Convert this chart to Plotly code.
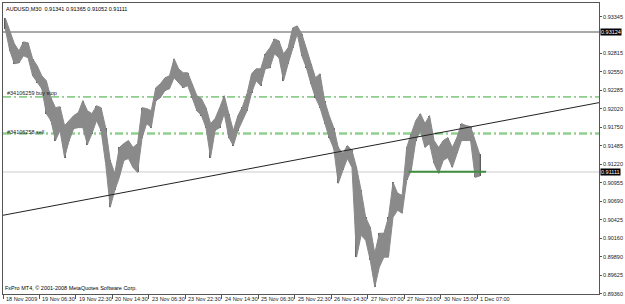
import plotly.graph_objects as go

# ---- data (2-hour aggregated AUDUSD bars) ----
HIGH = [0.93326, 0.93126, 0.92954, 0.92853, 0.92982, 0.92968, 0.92739, 0.92638, 0.92495, 0.92423,
        0.92180, 0.92036, 0.92050, 0.91778, 0.91850, 0.91922, 0.91965, 0.92137, 0.91993, 0.91950,
        0.92065, 0.92036, 0.91749, 0.91276, 0.91090, 0.91463, 0.91520, 0.91563, 0.91463, 0.91520,
        0.92036, 0.92022, 0.91993, 0.92323, 0.92380, 0.92466, 0.92495, 0.92739, 0.92595, 0.92538,
        0.92538, 0.92380, 0.92208, 0.92165, 0.92036, 0.91807, 0.91879, 0.92036, 0.92208, 0.91950,
        0.91706, 0.91922, 0.92050, 0.92237, 0.92524, 0.92595, 0.92595, 0.92810, 0.92896, 0.93025,
        0.92997, 0.92810, 0.92896, 0.93183, 0.93212, 0.93097, 0.92882, 0.92667, 0.92466, 0.92524,
        0.92137, 0.91922, 0.91749, 0.91463, 0.91377, 0.91491, 0.91420, 0.91176, 0.90846, 0.90459,
        0.90316, 0.89943, 0.90230, 0.90230, 0.90459, 0.90961, 0.90803, 0.90775, 0.91463, 0.91663,
        0.91850, 0.91950, 0.91807, 0.91922, 0.91563, 0.91463, 0.91563, 0.91606, 0.91463, 0.91606,
        0.91807, 0.91778, 0.91764, 0.91563, 0.91365]
LOW = [0.93169, 0.92853, 0.92667, 0.92681, 0.92782, 0.92753, 0.92495, 0.92395, 0.92309, 0.91950,
       0.91850, 0.91563, 0.91706, 0.91319, 0.91563, 0.91735, 0.91749, 0.91749, 0.91506, 0.91663,
       0.91850, 0.91706, 0.91233, 0.90603, 0.90846, 0.91033, 0.91276, 0.91305, 0.91176, 0.91104,
       0.91606, 0.91807, 0.91749, 0.92137, 0.92180, 0.92280, 0.92309, 0.92466, 0.92395, 0.92323,
       0.92352, 0.92180, 0.91993, 0.91922, 0.91749, 0.91319, 0.91706, 0.91749, 0.91950, 0.91606,
       0.91491, 0.91706, 0.91850, 0.91993, 0.92251, 0.92423, 0.92352, 0.92595, 0.92610, 0.92810,
       0.92753, 0.92423, 0.92667, 0.92896, 0.93097, 0.92782, 0.92610, 0.92380, 0.92180, 0.92036,
       0.91807, 0.91606, 0.91448, 0.90947, 0.91133, 0.91305, 0.91176, 0.89886, 0.90201, 0.90130,
       0.89843, 0.89456, 0.89743, 0.89886, 0.89886, 0.90459, 0.90560, 0.90517, 0.90990, 0.91133,
       0.91563, 0.91706, 0.91463, 0.91520, 0.91233, 0.91090, 0.91276, 0.91319, 0.91176, 0.91377,
       0.91563, 0.91563, 0.91563, 0.91033, 0.91052]

TIME_LABELS = ["18 Nov 2009", "19 Nov 06:30", "19 Nov 22:30", "20 Nov 14:30", "23 Nov 06:30",
               "23 Nov 22:30", "24 Nov 14:30", "25 Nov 06:30", "25 Nov 22:30", "26 Nov 14:30",
               "27 Nov 07:00", "27 Nov 23:00", "30 Nov 15:00", "1 Dec 07:00"]
LABEL_EVERY = 8  # bars between time labels

PRICE_TICKS = [0.93345, 0.92815, 0.92550, 0.92285, 0.92020, 0.91750, 0.91485, 0.91220,
               0.90955, 0.90690, 0.90425, 0.90160, 0.89890, 0.89625, 0.89360]
Y_RANGE = [0.89356, 0.93541]

RESIST_LEVEL = 0.93124
BID = 0.91111
BUY_STOP = 0.92190
SELL = 0.91663
SUPPORT = 0.91115
SUPPORT_BARS = [88.4, 105.4]
TREND_X = [-0.5, 130.15]
TREND_Y = [0.90488, 0.92108]

TITLE = "AUDUSD,M30  0.91341 0.91365 0.91052 0.91111"
COPYRIGHT = "FxPro MT4, \u00a9 2001-2008 MetaQuotes Software Corp."

FONT = "Liberation Sans"
FS = 5.5
BAND_COLOR = "#8a8a8a"
STROKE_COLOR = "#5e5e5e"

x = list(range(len(HIGH)))
fig = go.Figure()
# price range drawn as a high-low band, plus each bar's high-low stroke
fig.add_trace(go.Scatter(x=x, y=LOW, mode="lines", line=dict(color=BAND_COLOR, width=1),
                         hoverinfo="skip"))
fig.add_trace(go.Scatter(x=x, y=HIGH, mode="lines", line=dict(color=BAND_COLOR, width=1),
                         fill="tonexty", fillcolor=BAND_COLOR, hoverinfo="skip"))
fig.add_trace(go.Bar(x=x, y=[h - l for h, l in zip(HIGH, LOW)], base=LOW, width=0.25,
                     marker=dict(color=STROKE_COLOR, line=dict(width=0)), hoverinfo="skip"))
fig.add_trace(go.Scatter(x=TREND_X, y=TREND_Y, mode="lines",
                         line=dict(color="#222222", width=1), hoverinfo="skip"))
fig.add_trace(go.Scatter(x=SUPPORT_BARS, y=[SUPPORT, SUPPORT], mode="lines",
                         line=dict(color="#3f8f3f", width=2), hoverinfo="skip"))

shapes = [
    dict(type="line", xref="x domain", x0=0, x1=1, yref="y", y0=RESIST_LEVEL, y1=RESIST_LEVEL,
         line=dict(color="#555555", width=1), layer="below"),
    dict(type="line", xref="x domain", x0=0, x1=1, yref="y", y0=BID, y1=BID,
         line=dict(color="#cccccc", width=1), layer="below"),
    dict(type="line", xref="x domain", x0=0, x1=1, yref="y", y0=BUY_STOP, y1=BUY_STOP,
         line=dict(color="#3aa63a", width=1, dash="8px,3px,2px,3px"), layer="below"),
    dict(type="line", xref="x domain", x0=0, x1=1, yref="y", y0=SELL, y1=SELL,
         line=dict(color="#8fd08f", width=2.5, dash="8px,3px,2px,3px"), layer="below"),
]

ann = []
for k, lab in enumerate(TIME_LABELS):
    ann.append(dict(x=k * LABEL_EVERY - 0.5, xref="x", y=-0.017, yref="paper", text=lab,
                    showarrow=False, xanchor="left", yanchor="middle", xshift=1,
                    font=dict(family=FONT, size=FS, color="#222")))
for lv in (RESIST_LEVEL, BID):
    ann.append(dict(x=1, xref="paper", y=lv, yref="y", text=f"{lv:.5f}", showarrow=False,
                    xanchor="left", yanchor="middle", bgcolor="#000000", borderpad=0,
                    font=dict(family=FONT, size=FS, color="#ffffff"), xshift=1))
ann.append(dict(x=0, xref="x domain", y=BUY_STOP, yref="y", text="#34106259 buy stop",
                showarrow=False, xanchor="left", yanchor="bottom", xshift=2, yshift=-1,
                font=dict(family=FONT, size=FS, color="#222")))
ann.append(dict(x=0, xref="x domain", y=SELL, yref="y", text="#34106258 sell",
                showarrow=False, xanchor="left", yanchor="middle", xshift=2, yshift=2,
                font=dict(family=FONT, size=FS, color="#222")))
ann.append(dict(x=0, xref="paper", y=1, yref="paper", text=TITLE, showarrow=False,
                xanchor="left", yanchor="top", xshift=1, yshift=-1,
                font=dict(family=FONT, size=FS, color="#000")))
ann.append(dict(x=0, xref="paper", y=0, yref="paper", text=COPYRIGHT, showarrow=False,
                xanchor="left", yanchor="bottom", xshift=0, yshift=1,
                font=dict(family=FONT, size=FS, color="#000")))

fig.update_layout(
    width=625, height=304, margin=dict(l=2, r=22, t=2, b=10),
    paper_bgcolor="white", plot_bgcolor="white", showlegend=False,
    font=dict(family=FONT, size=FS, color="#222"),
    shapes=shapes, annotations=ann, bargap=0,
    xaxis=dict(range=[-0.5, 130.15], showgrid=False, zeroline=False,
               tickvals=[k * LABEL_EVERY - 0.5 for k in range(len(TIME_LABELS))],
               showticklabels=False, ticks="outside", ticklen=4, tickcolor="#555",
               showline=True, linecolor="#555", mirror=True, linewidth=1),
    yaxis=dict(range=Y_RANGE, side="right", showgrid=False, zeroline=False,
               tickvals=PRICE_TICKS, ticktext=[f"{v:.5f}" for v in PRICE_TICKS],
               ticks="outside", ticklen=2, tickcolor="#555",
               tickfont=dict(family=FONT, size=FS, color="#222"),
               showline=True, linecolor="#555", mirror=True, linewidth=1),
)

fig.write_html("out.html")
